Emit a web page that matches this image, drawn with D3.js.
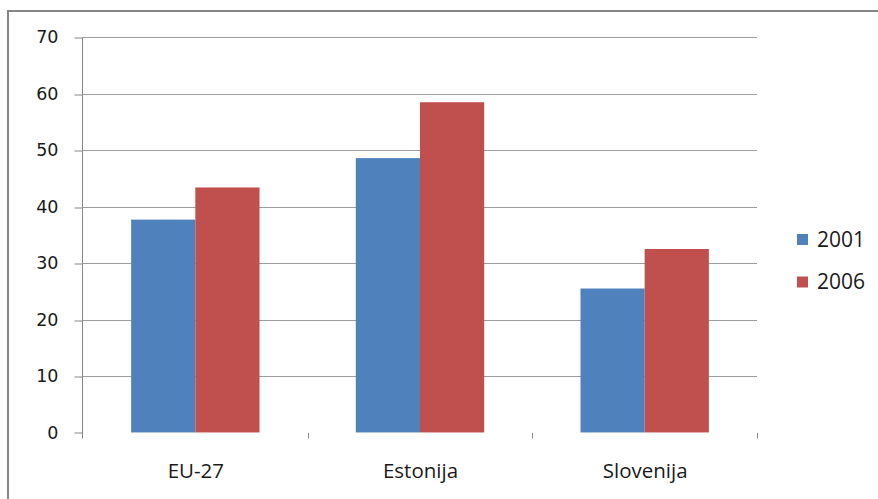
<!DOCTYPE html>
<html>
<head>
<meta charset="utf-8">
<script src="https://cdn.jsdelivr.net/npm/d3@7"></script>
<style>
  html, body { margin: 0; padding: 0; background: #fff; }
  svg { display: block; }
</style>
</head>
<body>
<svg id="chart" width="878" height="499"></svg>
<script>
// Data
const categories = ["EU-27", "Estonija", "Slovenija"];
const seriesNames = ["2001", "2006"];
const values2001 = [37.7, 48.6, 25.5];
const values2006 = [43.4, 58.5, 32.5];
const yTicks = [0, 10, 20, 30, 40, 50, 60, 70];
const colors = ["#4F81BD", "#C0504D"];

const seriesValues = [values2001, values2006];

const svg = d3.select("#chart");

// Plot area
const plotLeft = 83, plotRight = 757, plotTop = 37.3, plotBottom = 432.45;

const y = d3.scaleLinear().domain([0, 70]).range([plotBottom, plotTop]);
const x0 = d3.scaleBand().domain(categories).range([plotLeft, plotRight]).paddingInner(0).paddingOuter(0);
const x1 = d3.scaleBand().domain(seriesNames).range([0, x0.bandwidth()])
  .paddingInner(0).paddingOuter(0.75);

// Outer frame (top and left edges)
svg.append("line").attr("x1", 8).attr("x2", 878).attr("y1", 11).attr("y2", 11)
  .attr("stroke", "#868686").attr("stroke-width", 2);
svg.append("line").attr("x1", 8).attr("x2", 8).attr("y1", 10).attr("y2", 499)
  .attr("stroke", "#868686").attr("stroke-width", 2);

// Horizontal gridlines
svg.append("g")
  .selectAll("line")
  .data(yTicks.filter(d => d > 0))
  .join("line")
  .attr("x1", plotLeft).attr("x2", plotRight)
  .attr("y1", d => Math.round(y(d)) + 0.5).attr("y2", d => Math.round(y(d)) + 0.5)
  .attr("stroke", "#9d9d9d").attr("stroke-width", 1);

// Y axis
const yAxis = svg.append("g")
  .attr("transform", `translate(${plotLeft - 0.5},0)`)
  .call(d3.axisLeft(y).tickValues(yTicks).tickSize(8).tickSizeOuter(0).tickPadding(16));
yAxis.select(".domain").attr("stroke", "#868686").attr("d", `M0,${plotTop}V${plotBottom + 6}`);
yAxis.selectAll(".tick line").attr("stroke", "#868686")
  .attr("transform", d => `translate(0,${Math.round(y(d)) + 0.5 - y(d)})`);
yAxis.selectAll(".tick text")
  .attr("font-family", "DejaVu Sans, Verdana, sans-serif")
  .attr("font-size", "17.5px")
  .attr("fill", "#1a1a1a");

// Category boundary ticks
const bounds = categories.map(c => x0(c) + x0.bandwidth());
svg.append("g").selectAll("line")
  .data(bounds)
  .join("line")
  .attr("x1", d => Math.round(d) + 0.5).attr("x2", d => Math.round(d) + 0.5)
  .attr("y1", plotBottom + 0.5).attr("y2", plotBottom + 6)
  .attr("stroke", "#868686");

// Bars
const groups = svg.append("g").selectAll("g")
  .data(categories)
  .join("g")
  .attr("transform", d => `translate(${x0(d)},0)`);

groups.selectAll("rect")
  .data((c, i) => seriesNames.map((s, j) => ({ s, j, v: seriesValues[j][i] })))
  .join("rect")
  .attr("x", d => x1(d.s))
  .attr("width", x1.bandwidth())
  .attr("y", d => y(d.v))
  .attr("height", d => y(0) - y(d.v))
  .attr("fill", d => colors[d.j]);

// Category labels
svg.append("g").selectAll("text")
  .data(categories)
  .join("text")
  .attr("x", d => x0(d) + x0.bandwidth() / 2 + 0.5)
  .attr("y", 477.5)
  .attr("text-anchor", "middle")
  .attr("font-family", "Open Sans, sans-serif")
  .attr("font-size", "20.5px")
  .attr("fill", "#1a1a1a")
  .text(d => d);

// Legend
const legend = svg.append("g").selectAll("g")
  .data(seriesNames)
  .join("g")
  .attr("transform", (d, i) => `translate(797,${234 + i * 42.5})`);
legend.append("rect")
  .attr("width", 11).attr("height", 11)
  .attr("fill", (d, i) => colors[i]);
legend.append("text")
  .attr("x", 20).attr("y", 12.5)
  .attr("font-family", "Open Sans, sans-serif")
  .attr("font-size", "21px")
  .attr("fill", "#1a1a1a")
  .text(d => d);
</script>
</body>
</html>
